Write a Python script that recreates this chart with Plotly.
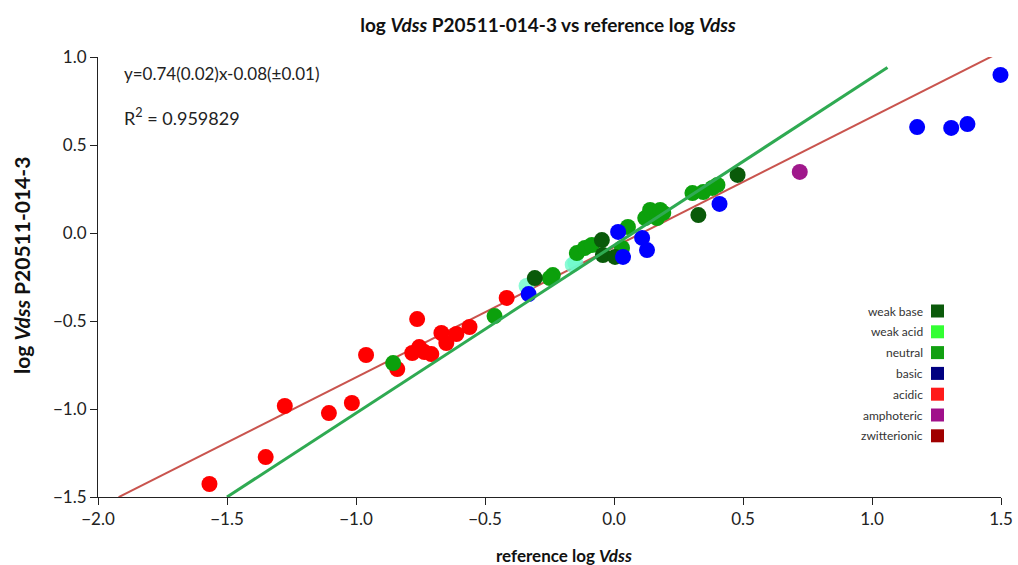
import plotly.graph_objects as go

# ---- data ----
acidic_x = [-1.568, -1.350, -1.276, -1.105, -1.016, -0.961, -0.840, -0.763, -0.782, -0.755,
            -0.735, -0.708, -0.669, -0.650, -0.611, -0.560, -0.416]
acidic_y = [-1.426, -1.273, -0.983, -1.023, -0.966, -0.693, -0.773, -0.489, -0.682, -0.648,
            -0.676, -0.688, -0.568, -0.625, -0.574, -0.534, -0.369]

weak_acid_x = [-0.339, -0.160, -0.150]
weak_acid_y = [-0.301, -0.180, -0.170]

neutral_x = [-0.856, -0.463, -0.237, -0.249, -0.144, -0.113, -0.086, 0.054, 0.031, 0.121,
             0.140, 0.167, 0.179, 0.191, 0.304, 0.346, 0.381, 0.401]
neutral_y = [-0.739, -0.472, -0.239, -0.256, -0.114, -0.085, -0.068, 0.034, -0.085, 0.085,
             0.131, 0.085, 0.131, 0.114, 0.227, 0.233, 0.256, 0.273]

weak_base_x = [-0.307, -0.047, -0.043, 0.004, 0.327, 0.479]
weak_base_y = [-0.256, -0.040, -0.125, -0.136, 0.102, 0.330]

basic_x = [-0.331, 0.016, 0.035, 0.109, 0.128, 0.409, 1.175, 1.307, 1.370, 1.498]
basic_y = [-0.347, 0.006, -0.136, -0.028, -0.097, 0.165, 0.602, 0.597, 0.619, 0.898]

amphoteric_x = [0.720]
amphoteric_y = [0.347]

# regression line y = slope*x + intercept
slope = 0.74
intercept = -0.08
fit_x = [-1.92, 1.49]
fit_y = [slope * v + intercept for v in fit_x]

# reference (green) line endpoints
ref_x = [-1.50, 1.06]
ref_y = [-1.50, 0.94]

legend_labels = ["weak base", "weak acid", "neutral", "basic", "acidic", "amphoteric", "zwitterionic"]
legend_colors = ["#0b5a0b", "#33ff33", "#11a011", "#000080", "#ff1a1a", "#a0108a", "#a00000"]

x_ticks = [-2.0, -1.5, -1.0, -0.5, 0.0, 0.5, 1.0, 1.5]
y_ticks = [-1.5, -1.0, -0.5, 0.0, 0.5, 1.0]

FONT = "Lato, 'Open Sans', sans-serif"

# plot area in pixels
L, R, T, B = 98, 17, 57, 68
W, H = 1018, 565
PW, PH = W - L - R, H - T - B

def px(xp):
    return (xp - L) / PW

def py(yp):
    return (H - B - yp) / PH

fig = go.Figure()

fig.add_trace(go.Scatter(x=fit_x, y=fit_y, mode="lines", cliponaxis=False,
                         line=dict(color="#c9544e", width=2), hoverinfo="skip"))

def pts(x, y, color, opacity=1.0):
    fig.add_trace(go.Scatter(x=x, y=y, mode="markers", cliponaxis=False,
                             marker=dict(size=16, color=color, opacity=opacity,
                                         line=dict(width=0))))

pts(acidic_x, acidic_y, "#ff0000")
pts(weak_acid_x, weak_acid_y, "#6dfacb", 0.8)
pts(neutral_x, neutral_y, "#0ca00c")
pts(weak_base_x, weak_base_y, "#0a5a0a")
pts(basic_x, basic_y, "#0000ff")
pts(amphoteric_x, amphoteric_y, "#a0188c")

fig.add_trace(go.Scatter(x=ref_x, y=ref_y, mode="lines",
                         line=dict(color="#2faa52", width=3), hoverinfo="skip"))

# legend (text on the left, square on the right)
annotations = []
shapes = []
for i, (lab, col) in enumerate(zip(legend_labels, legend_colors)):
    yc = py(311 + i * 20.8)
    annotations.append(dict(xref="paper", yref="paper", x=px(925), y=yc, text=lab,
                            showarrow=False, xanchor="right", yanchor="middle",
                            font=dict(family=FONT, size=12, color="#333333")))
    shapes.append(dict(type="rect", xref="paper", yref="paper",
                       x0=px(931), x1=px(944),
                       y0=yc - 6.5 / PH, y1=yc + 6.5 / PH,
                       fillcolor=col, line=dict(width=0)))

annotations.append(dict(xref="paper", yref="paper", x=px(122), y=py(73),
                        text="y=0.74(0.02)x-0.08(\u00b10.01)", showarrow=False,
                        xanchor="left", yanchor="middle",
                        font=dict(family=FONT, size=17, color="#222222")))
annotations.append(dict(xref="paper", yref="paper", x=px(122), y=py(117),
                        text="R<sup>2</sup> = 0.959829", showarrow=False,
                        xanchor="left", yanchor="middle",
                        font=dict(family=FONT, size=18, color="#222222")))
# axis titles
annotations.append(dict(xref="paper", yref="paper", x=px(564), y=py(555),
                        text="<b>reference log <i>Vdss</i></b>", showarrow=False,
                        xanchor="center", yanchor="middle",
                        font=dict(family=FONT, size=17, color="#111111")))
annotations.append(dict(xref="paper", yref="paper", x=px(21), y=py(266),
                        text="<b>log <i>Vdss</i> P20511-014-3</b>", showarrow=False,
                        textangle=-90, xanchor="center", yanchor="middle",
                        font=dict(family=FONT, size=21, color="#111111")))

fig.update_layout(
    width=W, height=H,
    margin=dict(l=L, r=R, t=T, b=B, autoexpand=False),
    paper_bgcolor="white", plot_bgcolor="white",
    showlegend=False,
    title=dict(text="<b>log <i>Vdss</i> P20511-014-3 vs reference log <i>Vdss</i></b>",
               x=548 / W, xref="container", y=1 - 25 / H, yref="container",
               xanchor="center", yanchor="middle",
               font=dict(family=FONT, size=19, color="#111111")),
    annotations=annotations,
    shapes=shapes,
    xaxis=dict(range=[-2.0, 1.5], tickvals=x_ticks, tickformat=".1f", automargin=False,
               showgrid=False, zeroline=False, showline=True, linecolor="#222222",
               linewidth=1, ticks="outside", ticklen=7, tickcolor="#222222",
               tickfont=dict(family=FONT, size=17, color="#222222")),
    yaxis=dict(range=[-1.5, 1.0], tickvals=y_ticks, tickformat=".1f", automargin=False,
               showgrid=False, zeroline=False, showline=True, linecolor="#222222",
               linewidth=1, ticks="outside", ticklen=7, tickcolor="#222222",
               tickfont=dict(family=FONT, size=17, color="#222222")),
)

fig.write_html("out.html")
